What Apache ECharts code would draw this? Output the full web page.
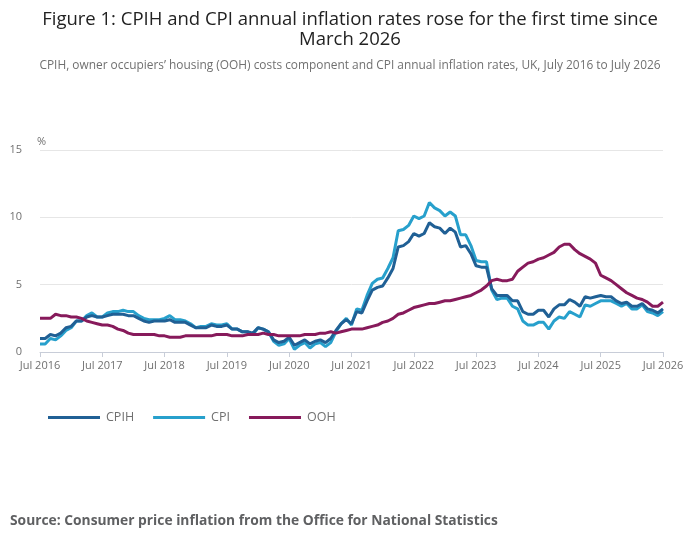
<!DOCTYPE html>
<html>
<head>
<meta charset="utf-8">
<title>CPIH, CPI and OOH annual inflation rates</title>
<script src="https://cdn.jsdelivr.net/npm/echarts@6/dist/echarts.min.js"></script>
<style>
  html, body { margin: 0; padding: 0; background: #fff; }
  #chart { width: 700px; height: 549px; }
</style>
</head>
<body>
<div id="chart"></div>
<script>
// monthly annual rates, Jul 2016 .. Jul 2026 (121 points)
var monthNames = ['Jul', 'Aug', 'Sep', 'Oct', 'Nov', 'Dec', 'Jan', 'Feb', 'Mar', 'Apr', 'May', 'Jun'];
var firstYear = 2016;

var cpih = [
  1.0, 1.0, 1.3, 1.2, 1.4, 1.8,
  1.9, 2.3, 2.3, 2.6, 2.7, 2.6, 2.6, 2.7, 2.8, 2.8, 2.8, 2.7,
  2.7, 2.5, 2.3, 2.2, 2.3, 2.3, 2.3, 2.4, 2.2, 2.2, 2.2, 2.0,
  1.8, 1.8, 1.8, 2.0, 1.9, 1.9, 2.0, 1.7, 1.7, 1.5, 1.5, 1.4,
  1.8, 1.7, 1.5, 0.9, 0.7, 0.8, 1.1, 0.5, 0.7, 0.9, 0.6, 0.8,
  0.9, 0.7, 1.0, 1.6, 2.1, 2.4, 2.1, 3.0, 2.9, 3.8, 4.6, 4.8,
  4.9, 5.5, 6.2, 7.8, 7.9, 8.2, 8.8, 8.6, 8.8, 9.6, 9.3, 9.2,
  8.8, 9.2, 8.9, 7.8, 7.9, 7.3, 6.4, 6.3, 6.3, 4.7, 4.2, 4.2,
  4.2, 3.8, 3.8, 3.0, 2.8, 2.8, 3.1, 3.1, 2.6, 3.2, 3.5, 3.5,
  3.9, 3.7, 3.4, 4.1, 4.0, 4.1, 4.2, 4.1, 4.1, 3.8, 3.6, 3.7,
  3.4, 3.4, 3.6, 3.2, 3.1, 2.9, 3.2
];

var cpi = [
  0.6, 0.6, 1.0, 0.9, 1.2, 1.6,
  1.8, 2.3, 2.3, 2.7, 2.9, 2.6, 2.6, 2.9, 3.0, 3.0, 3.1, 3.0,
  3.0, 2.7, 2.5, 2.4, 2.4, 2.4, 2.5, 2.7, 2.4, 2.4, 2.3, 2.1,
  1.8, 1.9, 1.9, 2.1, 2.0, 2.0, 2.1, 1.7, 1.7, 1.5, 1.5, 1.3,
  1.8, 1.7, 1.5, 0.8, 0.5, 0.6, 1.0, 0.2, 0.5, 0.7, 0.3, 0.6,
  0.7, 0.4, 0.7, 1.5, 2.1, 2.5, 2.0, 3.2, 3.1, 4.2, 5.1, 5.4,
  5.5, 6.2, 7.0, 9.0, 9.1, 9.4, 10.1, 9.9, 10.1, 11.1, 10.7, 10.5,
  10.1, 10.4, 10.1, 8.7, 8.7, 7.9, 6.8, 6.7, 6.7, 4.6, 3.9, 4.0,
  4.0, 3.4, 3.2, 2.3, 2.0, 2.0, 2.2, 2.2, 1.7, 2.3, 2.6, 2.5,
  3.0, 2.8, 2.6, 3.5, 3.4, 3.6, 3.8, 3.8, 3.8, 3.6, 3.4, 3.6,
  3.2, 3.2, 3.5, 3.0, 2.9, 2.7, 3.0
];

var ooh = [
  2.5, 2.5, 2.5, 2.8, 2.7, 2.7,
  2.6, 2.6, 2.5, 2.3, 2.2, 2.1, 2.0, 2.0, 1.9, 1.7, 1.6, 1.4,
  1.3, 1.3, 1.3, 1.3, 1.3, 1.2, 1.2, 1.1, 1.1, 1.1, 1.2, 1.2,
  1.2, 1.2, 1.2, 1.2, 1.3, 1.3, 1.3, 1.2, 1.2, 1.2, 1.3, 1.3,
  1.3, 1.4, 1.3, 1.3, 1.2, 1.2, 1.2, 1.2, 1.2, 1.3, 1.3, 1.3,
  1.4, 1.4, 1.5, 1.4, 1.5, 1.6, 1.7, 1.7, 1.7, 1.8, 1.9, 2.0,
  2.2, 2.3, 2.5, 2.8, 2.9, 3.1, 3.3, 3.4, 3.5, 3.6, 3.6, 3.7,
  3.8, 3.8, 3.9, 4.0, 4.1, 4.2, 4.4, 4.6, 4.9, 5.3, 5.4, 5.3,
  5.3, 5.4, 6.0, 6.3, 6.6, 6.7, 6.9, 7.0, 7.2, 7.4, 7.8, 8.0,
  8.0, 7.6, 7.3, 7.1, 6.9, 6.6, 5.7, 5.5, 5.3, 5.0, 4.7, 4.4,
  4.2, 4.0, 3.9, 3.7, 3.4, 3.4, 3.7
];

var seriesNames = ['CPIH', 'CPI', 'OOH'];
var seriesColors = ['#206095', '#27a0cc', '#871a5b'];
var yTicks = [0, 5, 10, 15];

// category labels "Jul 2016", "Aug 2016", ...
var months = [];
for (var i = 0; i < cpih.length; i++) {
  var yr = firstYear + Math.floor((i + 6) / 12);
  months.push(monthNames[i % 12] + ' ' + yr);
}

var font = '"Open Sans", "Noto Sans", sans-serif';
var myChart = echarts.init(document.getElementById('chart'));

var option = {
  backgroundColor: '#ffffff',
  animation: false,
  title: [
    {
      text: 'Figure 1: CPIH and CPI annual inflation rates rose for the first time since\nMarch 2026',
      left: 'center',
      top: 5,
      textStyle: {fontFamily: font, fontSize: 18.5, fontWeight: 'normal', color: '#222222', lineHeight: 20}
    },
    {
      text: 'CPIH, owner occupiers\u2019 housing (OOH) costs component and CPI annual inflation rates, UK, July 2016 to July 2026',
      left: 'center',
      top: 55,
      textStyle: {fontFamily: font, fontSize: 11.9, fontWeight: 'normal', color: '#707070'}
    }
  ],
  legend: {
    left: 43,
    top: 406,
    itemWidth: 52,
    itemHeight: 3,
    itemGap: 19,
    icon: 'rect',
    textStyle: {fontFamily: font, fontSize: 12.5, color: '#707070', padding: [0, 0, 0, 1]},
    data: seriesNames
  },
  grid: {left: 40, right: 37, top: 150, bottom: 197},
  xAxis: {
    type: 'category',
    boundaryGap: false,
    data: months,
    axisLine: {lineStyle: {color: '#c8cdd8', width: 1}},
    axisTick: {
      show: true,
      length: 5,
      lineStyle: {color: '#c8cdd8'},
      interval: function (idx) { return idx % 12 === 0; }
    },
    axisLabel: {
      interval: function (idx) { return idx % 12 === 0; },
      fontFamily: font,
      fontSize: 11,
      color: '#707070',
      margin: 8
    },
    splitLine: {show: false}
  },
  yAxis: {
    type: 'value',
    min: yTicks[0],
    max: yTicks[yTicks.length - 1],
    interval: 5,
    name: '%',
    nameLocation: 'end',
    nameGap: 3,
    nameTextStyle: {fontFamily: font, fontSize: 11, color: '#707070', align: 'left', padding: [0, 0, 0, -3]},
    axisLine: {show: false},
    axisTick: {show: false},
    axisLabel: {fontFamily: font, fontSize: 11, color: '#707070', margin: 18},
    splitLine: {lineStyle: {color: '#e6e6e6', width: 1}}
  },
  series: [
    {name: seriesNames[0], type: 'line', data: cpih, showSymbol: false, z: 3,
     lineStyle: {color: seriesColors[0], width: 3}, itemStyle: {color: seriesColors[0]}},
    {name: seriesNames[1], type: 'line', data: cpi, showSymbol: false, z: 2,
     lineStyle: {color: seriesColors[1], width: 3}, itemStyle: {color: seriesColors[1]}},
    {name: seriesNames[2], type: 'line', data: ooh, showSymbol: false, z: 4,
     lineStyle: {color: seriesColors[2], width: 3}, itemStyle: {color: seriesColors[2]}}
  ],
  graphic: [
    {
      type: 'text',
      left: 10,
      top: 514,
      style: {
        text: 'Source: Consumer price inflation from the Office for National Statistics',
        fontFamily: font,
        fontSize: 13.8,
        fontWeight: 'bold',
        fill: '#5f6062'
      }
    }
  ]
};
myChart.setOption(option);
</script>
</body>
</html>
